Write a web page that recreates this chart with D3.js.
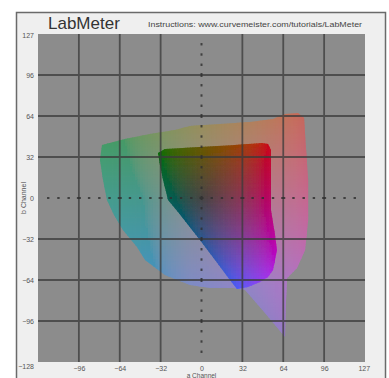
<!DOCTYPE html>
<html>
<head>
<meta charset="utf-8">
<script src="https://cdn.jsdelivr.net/npm/d3@7"></script>
<style>
  body { margin: 0; background: #fff; }
  svg { display: block; font-family: "Liberation Sans", Arial, sans-serif; }
</style>
</head>
<body>
<svg id="chart" width="389" height="378"></svg>
<script>
// tick values on both channels (the -128 corner label is shared)
const aTicks = [-96, -64, -32, 0, 32, 64, 96, 127];
const bTicks = [-128, -96, -64, -32, 0, 32, 64, 96, 127];
const gridValues = [-96, -64, -32, 32, 64, 96];

// outer (light) gamut outline, [a, b]
const outerGamut = [
  [-77.9, 41.4], [-59.9, 46.1], [-40.3, 50.0], [-20.8, 53.1], [-9.0, 56.2],
  [14.5, 57.7], [38.0, 59.3], [56.0, 61.6], [65.4, 65.6], [75.6, 66.4],
  [80.3, 62.5], [81.9, 37.5], [83.5, 14.0], [83.5, -17.2], [81.1, -40.6],
  [74.8, -54.6], [67.0, -62.5], [66.2, -79.6], [65.4, -108.5], [49.7, -89.8],
  [34.1, -71.8], [24.7, -70.3], [6.7, -70.3], [-9.0, -67.9], [-28.6, -60.1],
  [-44.2, -48.4], [-50.5, -38.3], [-61.5, -25.0], [-68.5, -13.3], [-74.0, -1.6],
  [-77.1, 14.1], [-79.5, 29.7]
];

// inner (saturated) gamut outline, [a, b]
const innerGamut = [
  [-34.1, 35.1], [-28.6, 38.3], [-1.2, 39.8], [26.2, 41.4], [47.4, 43.0],
  [52.1, 42.2], [54.4, 37.5], [54.4, 14.1], [54.4, -9.4], [57.6, -28.9],
  [59.1, -40.6], [56.0, -56.2], [52.1, -61.7], [45.8, -65.6], [36.4, -69.5],
  [27.8, -71.1], [22.3, -64.0], [10.6, -48.4], [-1.2, -32.8], [-18.4, -10.9],
  [-26.2, -1.6], [-30.1, 14.1], [-32.5, 25.8]
];

const svg = d3.select("#chart");
const x = d3.scaleLinear().domain([-128, 128]).range([38, 365]);
const y = d3.scaleLinear().domain([-128, 128]).range([362, 34]);

// panel
svg.append("rect")
  .attr("x", 16.5).attr("y", 12.5).attr("width", 369).attr("height", 370)
  .attr("fill", "#efefef").attr("stroke", "#6a6a6a").attr("stroke-width", 1.5);

svg.append("rect")
  .attr("x", x(-128)).attr("y", y(128))
  .attr("width", x(128) - x(-128)).attr("height", y(-128) - y(128))
  .attr("fill", "#8c8c8c");

const defs = svg.append("defs");
const line = d3.line().x(d => x(d[0])).y(d => y(d[1])).curve(d3.curveLinearClosed);

defs.append("clipPath").attr("id", "clip-outer").append("path").attr("d", line(outerGamut));
defs.append("clipPath").attr("id", "clip-inner").append("path").attr("d", line(innerGamut));
defs.append("filter").attr("id", "soft")
  .append("feGaussianBlur").attr("stdDeviation", 0.7);

// fill a gamut with colour cells
function cells(points, colorFn) {
  const step = 2;
  const aExt = d3.extent(points, d => d[0]);
  const bExt = d3.extent(points, d => d[1]);
  const out = [];
  for (let a = Math.floor(aExt[0]) - 2; a <= aExt[1] + 2; a += step) {
    for (let b = Math.floor(bExt[0]) - 2; b <= bExt[1] + 2; b += step) {
      out.push({ a, b, c: colorFn(a + step / 2, b + step / 2) });
    }
  }
  return out;
}

// outer field: lower-left leans to blue, like the reference
const outerColor = (a, b) => {
  const w = Math.max(0, Math.min(1, (40 - a) / 50));
  const shift = b < 0 ? -b * 0.35 * w : 0;
  return d3.lab(60, a * 0.9 + shift, b * 0.9).formatHex();
};
const innerColor = (a, b) => {
  const c = Math.hypot(a, b);
  return d3.lab(28 + c * 0.22, a * 1.3, b * 1.2).formatHex();
};

function drawGamut(points, clipId, colorFn, opacity) {
  const g = svg.append("g").attr("filter", "url(#soft)").attr("opacity", opacity);
  g.append("g").attr("clip-path", `url(#${clipId})`)
    .selectAll("rect")
    .data(cells(points, colorFn))
    .join("rect")
    .attr("x", d => x(d.a))
    .attr("y", d => y(d.b + 2))
    .attr("width", x(2) - x(0) + 0.6)
    .attr("height", y(0) - y(2) + 0.6)
    .attr("fill", d => d.c);
}

drawGamut(outerGamut, "clip-outer", outerColor, 0.5);
drawGamut(innerGamut, "clip-inner", innerColor, 0.95);

// grid
const grid = svg.append("g").attr("stroke", "#3a3a3a").attr("stroke-width", 1.8).attr("opacity", 0.75);
grid.selectAll(".gv").data(gridValues).join("line")
  .attr("x1", d => x(d)).attr("x2", d => x(d)).attr("y1", y(128)).attr("y2", y(-128));
grid.selectAll(".gh").data(gridValues).join("line")
  .attr("y1", d => y(d)).attr("y2", d => y(d)).attr("x1", x(-128)).attr("x2", x(128));

// zero axes drawn as little marks
const marks = d3.range(-120, 128, 8);
const zero = svg.append("g").attr("fill", "#2e2e2e").attr("opacity", 0.8);
zero.selectAll(".mh").data(marks).join("rect")
  .attr("x", d => x(d) - (d % 32 === 0 ? 2 : 1.2)).attr("y", y(0) - 1)
  .attr("width", d => d % 32 === 0 ? 4 : 2.4).attr("height", 2);
zero.selectAll(".mv").data(marks).join("rect")
  .attr("x", x(0) - 1).attr("y", d => y(d) - (d % 32 === 0 ? 2 : 1.2))
  .attr("width", 2).attr("height", d => d % 32 === 0 ? 4 : 2.4);

// axes
const xAxis = svg.append("g")
  .attr("transform", `translate(0,${y(-128)})`)
  .call(d3.axisBottom(x).tickValues(aTicks).tickSize(0).tickPadding(4).tickFormat(d3.format("d")));
const yAxis = svg.append("g")
  .attr("transform", `translate(${x(-128)},0)`)
  .call(d3.axisLeft(y).tickValues(bTicks).tickSize(0).tickPadding(4).tickFormat(d3.format("d")));
[xAxis, yAxis].forEach(g => {
  g.select(".domain").remove();
  g.selectAll("text").attr("font-size", 7).attr("fill", "#555")
    .attr("font-family", "Liberation Sans, Arial, sans-serif");
});
yAxis.selectAll(".tick").filter(d => d === -128).select("text").attr("dy", "0.95em");

svg.append("text")
  .attr("x", x(0)).attr("y", 377.5)
  .attr("text-anchor", "middle").attr("font-size", 6.5).attr("fill", "#555")
  .text("a Channel");

svg.append("text")
  .attr("transform", `translate(26,${y(0)}) rotate(-90)`)
  .attr("text-anchor", "middle").attr("font-size", 7).attr("fill", "#555")
  .text("b Channel");

// title
svg.append("text")
  .attr("x", 48).attr("y", 29)
  .attr("font-size", 17).attr("fill", "#333")
  .text("LabMeter");

svg.append("text")
  .attr("x", 148).attr("y", 27)
  .attr("font-size", 6.5).attr("fill", "#444")
  .attr("textLength", 214).attr("lengthAdjust", "spacingAndGlyphs")
  .text("Instructions: www.curvemeister.com/tutorials/LabMeter");
</script>
</body>
</html>
